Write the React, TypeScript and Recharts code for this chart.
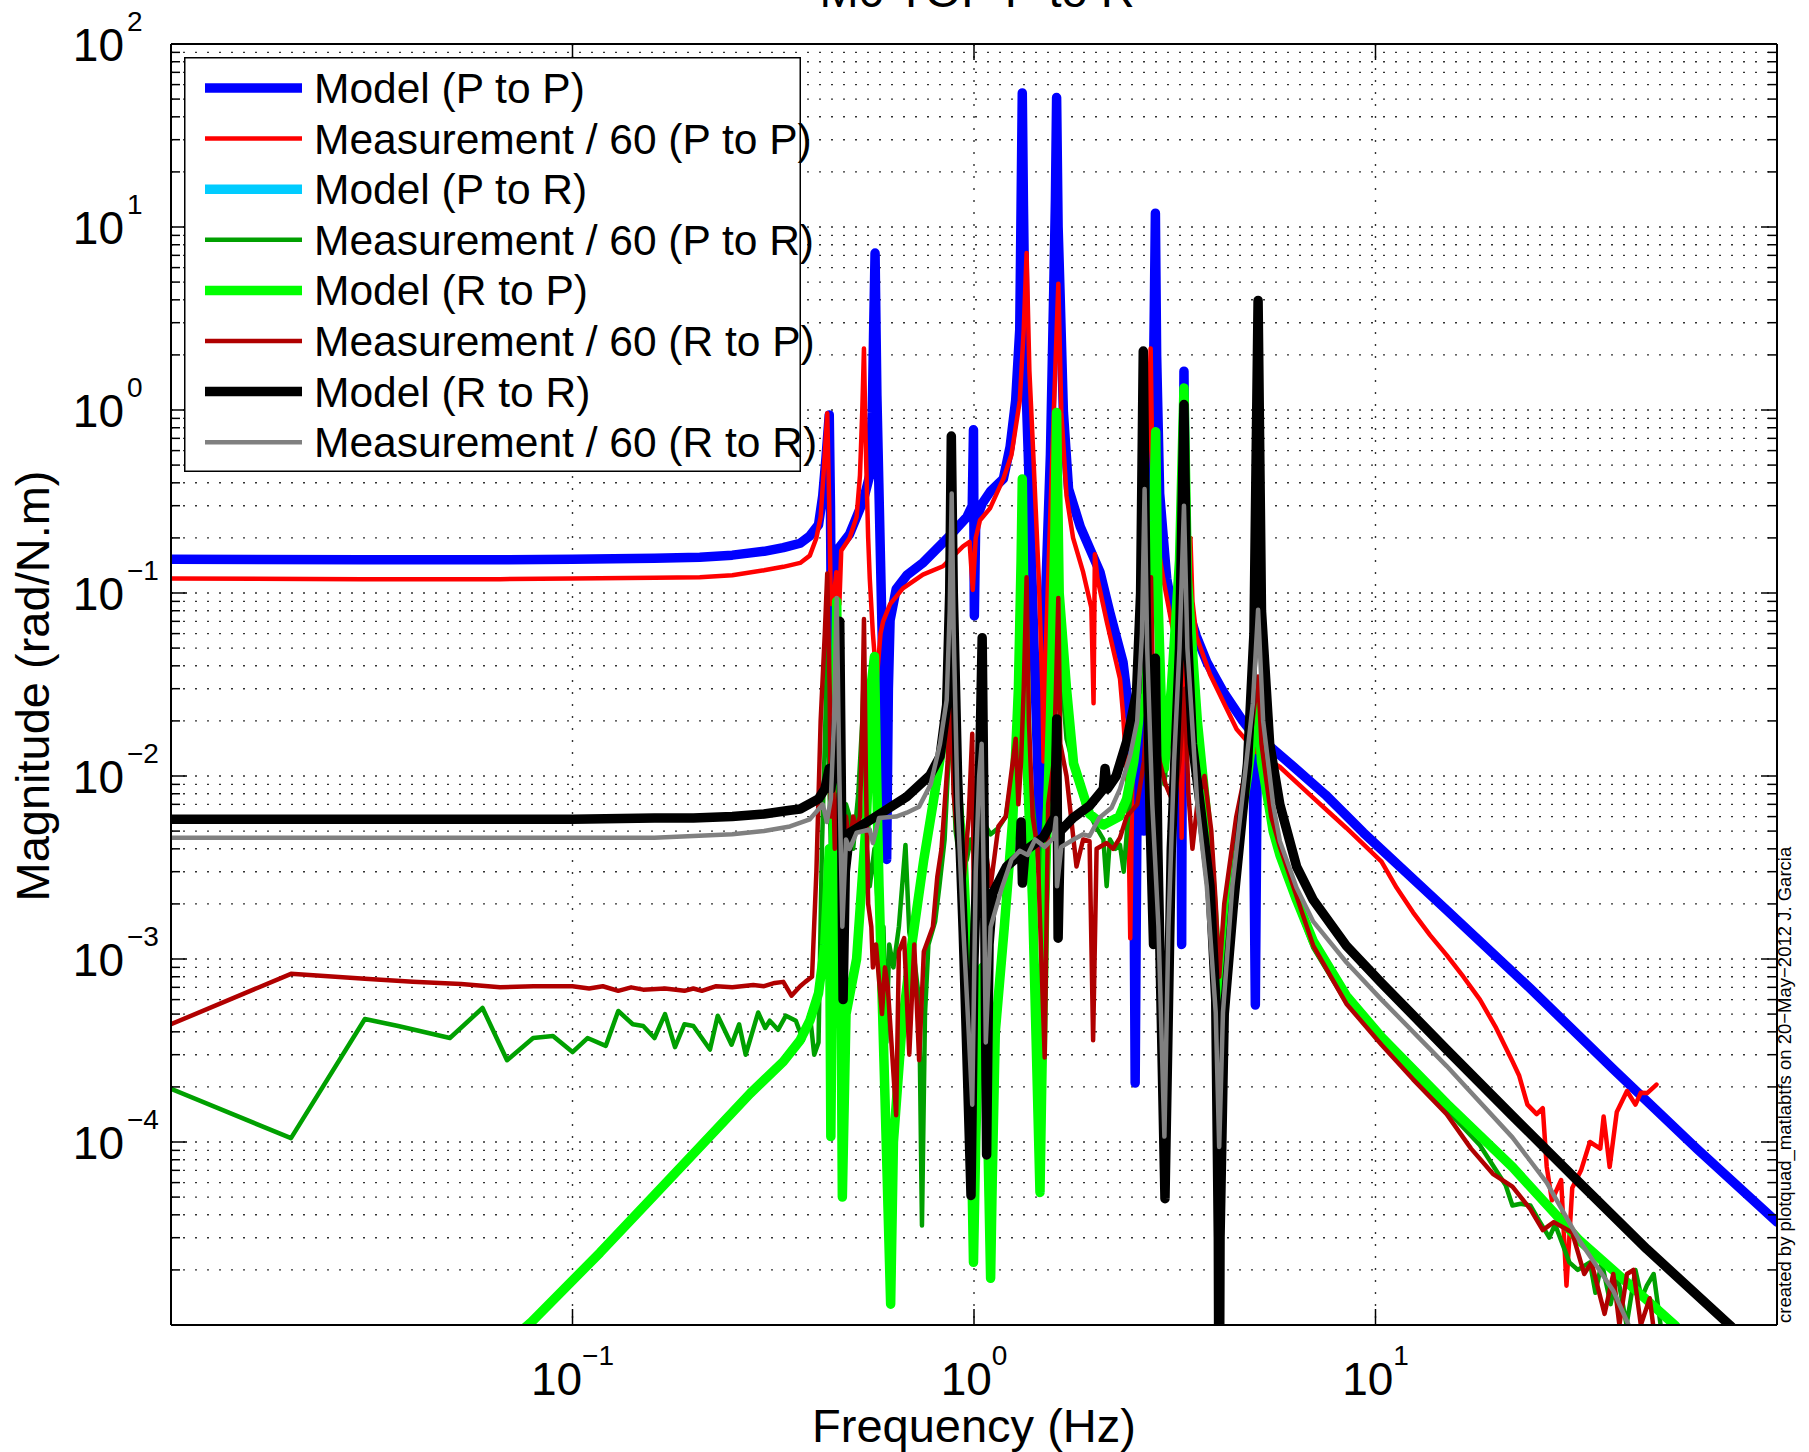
import React from 'react';
import { LineChart, Line, XAxis, YAxis, CartesianGrid, ReferenceLine, Legend } from 'recharts';

// ---------------- layout ----------------
const W = 1809;
const H = 1452;
const Y_AXIS_W = 171;
const X_AXIS_H = 127;
const MARGIN = { top: 44, right: 32, left: 0, bottom: 0 };
const PLOT_L = Y_AXIS_W;
const PLOT_R = W - MARGIN.right;
const PLOT_T = MARGIN.top;
const PLOT_B = H - X_AXIS_H;
const FONT = '"Liberation Sans", Arial, Helvetica, sans-serif';
const THICK = 9.5;
const THIN = 4.5;

// ---------------- axes ----------------
const xDomain = [0.01, 100];
const yDomain = [1e-5, 100];
const xTicks = [0.01, 0.1, 1, 10, 100];
const xTickExp: Record<string, string> = { '0.1': '\u22121', '1': '0', '10': '1' };
const yMantissas = [1, 2, 3, 4, 5, 6, 7, 8, 9];
const yDecades = [-5, -4, -3, -2, -1, 0, 1];
const yTicks = [...yDecades.flatMap((e) => yMantissas.map((m) => +(m * Math.pow(10, e)).toPrecision(6))), 100];
const yTickExp: Record<string, string> = {
  '0.0001': '\u22124', '0.001': '\u22123', '0.01': '\u22122', '0.1': '\u22121', '1': '0', '10': '1', '100': '2',
};

// ---------------- data: [frequency Hz, magnitude] ----------------
const modelPtoP: number[][] = [
  [0.01, 0.153], [0.03, 0.152], [0.066, 0.152], [0.1, 0.153], [0.16, 0.155], [0.2075, 0.157], [0.25, 0.161],
  [0.3, 0.169], [0.335, 0.177], [0.369, 0.187], [0.39, 0.205], [0.41, 0.236], [0.42, 0.34], [0.428, 0.55],
  [0.436, 0.94], [0.439, 0.3], [0.442, 0.04], [0.446, 0.12], [0.455, 0.17], [0.49, 0.21], [0.51, 0.26],
  [0.53, 0.32], [0.55, 0.44], [0.558, 0.97], [0.562, 2.5], [0.567, 7.2], [0.573, 1.2], [0.585, 0.15],
  [0.597, 0.02], [0.606, 0.0035], [0.612, 0.03], [0.618, 0.071], [0.64, 0.105], [0.68, 0.125], [0.748, 0.147],
  [0.86, 0.2], [0.96, 0.26], [0.99, 0.3], [0.997, 0.78], [1.002, 0.075], [1.01, 0.25], [1.05, 0.31],
  [1.1, 0.36], [1.183, 0.42], [1.23, 0.63], [1.27, 1.13], [1.3, 2.75], [1.31, 13], [1.319, 54], [1.328, 13],
  [1.345, 1.5], [1.365, 0.57], [1.405, 0.07], [1.44, 0.012], [1.46, 0.004], [1.48, 0.012], [1.5, 0.07],
  [1.55, 0.57], [1.58, 4.6], [1.595, 14], [1.606, 51], [1.62, 10], [1.637, 4.6], [1.67, 0.97], [1.72, 0.37],
  [1.84, 0.23], [2.06, 0.13], [2.18, 0.078], [2.35, 0.042], [2.45, 0.02], [2.5, 0.005], [2.52, 0.00021],
  [2.55, 0.01], [2.6, 0.03], [2.635, 0.09], [2.65, 0.005], [2.7, 0.04], [2.78, 0.5], [2.81, 3], [2.83, 11.9],
  [2.85, 2], [2.9, 0.35], [3.02, 0.12], [3.2, 0.06], [3.27, 0.03], [3.29, 0.0012], [3.31, 0.12], [3.334, 1.63],
  [3.36, 0.2], [3.45, 0.075], [3.58, 0.058], [3.8, 0.042], [4.17, 0.029], [4.67, 0.02], [4.95, 0.017],
  [5.02, 0.00056], [5.08, 0.0165], [5.4, 0.0148], [6.12, 0.0117], [7.5, 0.0079], [9.33, 0.0049],
  [15.04, 0.00185], [24.3, 0.00069], [39.1, 0.00025], [63.1, 0.000092], [100, 0.0000365],
];

const measPtoP: number[][] = [
  [0.01, 0.12], [0.03, 0.119], [0.066, 0.119], [0.1, 0.12], [0.16, 0.121], [0.2075, 0.122], [0.25, 0.125],
  [0.3, 0.133], [0.335, 0.139], [0.369, 0.146], [0.39, 0.16], [0.405, 0.2], [0.415, 0.26], [0.422, 0.45],
  [0.431, 0.96], [0.436, 0.3], [0.44, 0.087], [0.446, 0.087], [0.454, 0.13], [0.462, 0.087], [0.467, 0.17],
  [0.49, 0.2], [0.51, 0.26], [0.52, 0.44], [0.527, 1.0], [0.532, 2.17], [0.537, 0.7], [0.545, 0.2],
  [0.55, 0.12], [0.56, 0.06], [0.572, 0.033], [0.585, 0.06], [0.594, 0.07], [0.618, 0.087], [0.665, 0.106],
  [0.746, 0.126], [0.837, 0.14], [0.939, 0.18], [0.975, 0.19], [0.993, 0.104], [1.01, 0.2], [1.035, 0.25],
  [1.096, 0.29], [1.183, 0.42], [1.24, 0.57], [1.3, 1.12], [1.33, 2.75], [1.352, 7.2], [1.374, 1.63],
  [1.405, 0.57], [1.45, 0.12], [1.48, 0.03], [1.49, 0.012], [1.51, 0.05], [1.53, 0.12], [1.58, 0.97],
  [1.622, 4.9], [1.65, 0.97], [1.7, 0.34], [1.765, 0.2], [1.87, 0.13], [1.96, 0.083], [1.985, 0.025],
  [2.0, 0.163], [2.03, 0.12], [2.14, 0.07], [2.31, 0.034], [2.35, 0.022], [2.42, 0.008], [2.45, 0.0013],
  [2.48, 0.01], [2.55, 0.04], [2.65, 0.2], [2.72, 0.8], [2.754, 2.17], [2.78, 0.5], [2.85, 0.2], [2.96, 0.12],
  [3.1, 0.07], [3.2, 0.05], [3.27, 0.02], [3.29, 0.0046], [3.33, 0.04], [3.4, 0.08], [3.46, 0.2], [3.5, 0.09],
  [3.58, 0.058], [3.87, 0.036], [4.51, 0.018], [5.06, 0.0135], [5.78, 0.0112], [7.0, 0.0076], [8.46, 0.0052],
  [10.35, 0.0034], [11.29, 0.00245], [12.4, 0.0018], [13.67, 0.00135], [15.04, 0.00105], [16.55, 0.0008],
  [18.2, 0.0006], [19.97, 0.00042], [21.93, 0.000276], [22.8, 0.00023], [23.9, 0.00016], [25.2, 0.000142],
  [26.1, 0.000153], [26.7, 0.000073], [27.5, 0.000048], [29, 0.000062], [29.9, 0.0000164], [30.9, 0.000056],
  [32.5, 0.00007], [34.2, 0.0001], [36.3, 0.000092], [37, 0.000138], [38.3, 0.000073], [39.9, 0.000146],
  [42.3, 0.00019], [44.4, 0.00016], [45.8, 0.000186], [47.5, 0.000185], [50.1, 0.000206],
];

const modelRtoP: number[][] = [
  [0.075, 0.0000094], [0.0791, 0.0000104], [0.117, 0.0000248], [0.156, 0.0000484], [0.2075, 0.000094],
  [0.277, 0.000184], [0.335, 0.000275], [0.369, 0.00036], [0.39, 0.00046], [0.41, 0.00065], [0.425, 0.0012],
  [0.432, 0.0025], [0.436, 0.004], [0.44, 0.000107], [0.445, 0.002], [0.451, 0.02], [0.455, 0.09], [0.46, 0.01],
  [0.466, 0.001], [0.47, 0.00005], [0.48, 0.0005], [0.51, 0.001], [0.54, 0.006], [0.556, 0.033], [0.565, 0.045],
  [0.572, 0.01], [0.58, 0.0025], [0.6, 0.00018], [0.62, 0.000013], [0.63, 0.0001], [0.66, 0.0004], [0.7, 0.0012],
  [0.75, 0.0035], [0.79, 0.007], [0.83, 0.014], [0.855, 0.022], [0.87, 0.05], [0.878, 0.09], [0.888, 0.03],
  [0.91, 0.008], [0.94, 0.0035], [0.97, 0.0008], [0.985, 0.0001], [0.997, 0.000022], [1.01, 0.0001],
  [1.03, 0.0006], [1.05, 0.0009], [1.07, 0.0004], [1.09, 0.00005], [1.1, 0.000018], [1.11, 0.00006],
  [1.13, 0.0004], [1.19, 0.0015], [1.25, 0.006], [1.29, 0.03], [1.31, 0.15], [1.319, 0.42], [1.33, 0.1],
  [1.36, 0.01], [1.4, 0.002], [1.46, 0.000053], [1.5, 0.002], [1.55, 0.02], [1.59, 0.2], [1.606, 0.97],
  [1.63, 0.1], [1.7, 0.03], [1.77, 0.0117], [1.94, 0.0062], [2.1, 0.0054], [2.3, 0.006], [2.4, 0.0075],
  [2.5, 0.012], [2.6, 0.025], [2.7, 0.06], [2.8, 0.25], [2.835, 0.76], [2.87, 0.1], [2.95, 0.015],
  [2.98, 0.011], [3.1, 0.03], [3.25, 0.15], [3.334, 1.32], [3.4, 0.12], [3.6, 0.02], [3.8, 0.006], [4.0, 0.0012],
  [4.08, 0.0001], [4.2, 0.001], [4.5, 0.004], [4.8, 0.01], [5.05, 0.025], [5.1, 0.028], [5.2, 0.012],
  [5.56, 0.005], [5.78, 0.0037], [6.36, 0.0021], [7.0, 0.00125], [8.46, 0.00063], [10.35, 0.000374],
  [15.04, 0.000162], [21.93, 0.000073], [32.2, 0.000029], [47.4, 0.0000137], [55.6, 0.00001], [58, 0.000009],
];

// Model (P to R) lies exactly under Model (R to P) in the reference
const modelPtoR: number[][] = modelRtoP;

const measPtoR: number[][] = [
  [0.01, 0.000195], [0.0199, 0.000105], [0.0304, 0.00047], [0.0368, 0.00043], [0.0495, 0.00037],
  [0.0597, 0.00054], [0.0687, 0.00028], [0.0798, 0.00037], [0.0894, 0.00038], [0.1, 0.00031], [0.109, 0.00037],
  [0.121, 0.000335], [0.13, 0.00052], [0.1413, 0.00044], [0.15, 0.00043], [0.16, 0.00037], [0.17, 0.0005],
  [0.18, 0.00033], [0.19, 0.00044], [0.2, 0.00043], [0.22, 0.00032], [0.23, 0.00049], [0.249, 0.00034],
  [0.26, 0.00044], [0.27, 0.0003], [0.29, 0.00051], [0.302, 0.00042], [0.31, 0.00046], [0.325, 0.00041],
  [0.34, 0.00049], [0.36, 0.00046], [0.375, 0.00036], [0.39, 0.0005], [0.4, 0.0003], [0.41, 0.00035],
  [0.418, 0.004], [0.425, 0.015], [0.431, 0.05], [0.436, 0.01], [0.44, 0.004], [0.45, 0.003], [0.455, 0.02],
  [0.462, 0.004], [0.472, 0.0025], [0.48, 0.007], [0.49, 0.006], [0.5, 0.004], [0.515, 0.008], [0.527, 0.02],
  [0.532, 0.04], [0.537, 0.005], [0.55, 0.0025], [0.565, 0.004], [0.58, 0.0015], [0.595, 0.0015],
  [0.605, 0.00035], [0.615, 0.0012], [0.63, 0.0009], [0.65, 0.0015], [0.675, 0.0042], [0.69, 0.0014],
  [0.71, 0.001], [0.73, 0.0006], [0.742, 0.000035], [0.755, 0.0005], [0.77, 0.0012], [0.8, 0.0016],
  [0.82, 0.0025], [0.845, 0.0045], [0.86, 0.01], [0.875, 0.04], [0.885, 0.012], [0.9, 0.005], [0.93, 0.003],
  [0.96, 0.0035], [0.98, 0.0045], [1.0, 0.0038], [1.03, 0.0045], [1.06, 0.0055], [1.1, 0.0048], [1.15, 0.0052],
  [1.2, 0.006], [1.26, 0.012], [1.3, 0.04], [1.319, 0.2], [1.335, 0.04], [1.38, 0.01], [1.42, 0.005],
  [1.46, 0.0025], [1.5, 0.006], [1.56, 0.03], [1.606, 0.45], [1.63, 0.05], [1.7, 0.016], [1.8, 0.01],
  [1.88, 0.007], [1.94, 0.0062], [2.02, 0.0052], [2.1, 0.0045], [2.14, 0.0025], [2.18, 0.0045], [2.25, 0.004],
  [2.31, 0.0042], [2.36, 0.003], [2.42, 0.006], [2.5, 0.011], [2.6, 0.024], [2.7, 0.05], [2.8, 0.2],
  [2.835, 0.4], [2.87, 0.06], [2.93, 0.015], [2.98, 0.009], [3.1, 0.025], [3.25, 0.12], [3.334, 0.7],
  [3.38, 0.1], [3.5, 0.025], [3.7, 0.009], [3.9, 0.003], [4.02, 0.0008], [4.08, 0.0002], [4.15, 0.0008],
  [4.4, 0.0035], [4.7, 0.008], [4.95, 0.016], [5.1, 0.022], [5.25, 0.01], [5.5, 0.005], [5.78, 0.0036],
  [6.36, 0.002], [7.0, 0.00115], [8.46, 0.00058], [10.35, 0.000345], [12.4, 0.000225], [15.04, 0.00015],
  [18.2, 0.000096], [21.1, 0.000058], [21.93, 0.000045], [23, 0.000046], [24.3, 0.000045], [25.6, 0.000037],
  [27.1, 0.00003], [28, 0.0000355], [30.4, 0.000022], [31.9, 0.00002], [34.2, 0.000022], [35.3, 0.000015],
  [36.6, 0.000022], [38.5, 0.000013], [40, 0.000019], [42.2, 0.00001], [44.4, 0.00002], [46, 0.000014],
  [47.4, 0.0000164], [49.3, 0.000019], [51.3, 0.00001],
];

const measRtoP: number[][] = [
  [0.01, 0.00044], [0.0199, 0.00083], [0.0304, 0.00078], [0.04, 0.00075], [0.0528, 0.00073], [0.066, 0.0007],
  [0.08, 0.00071], [0.1, 0.00071], [0.11, 0.00069], [0.119, 0.00071], [0.13, 0.00067], [0.14, 0.0007],
  [0.15, 0.00068], [0.17, 0.00069], [0.19, 0.00067], [0.2, 0.00069], [0.21, 0.00067], [0.228, 0.00071],
  [0.25, 0.0007], [0.282, 0.00072], [0.3, 0.00071], [0.319, 0.00074], [0.335, 0.00075], [0.351, 0.00063],
  [0.369, 0.00071], [0.38, 0.00075], [0.395, 0.0008], [0.405, 0.003], [0.415, 0.02], [0.425, 0.06],
  [0.431, 0.128], [0.437, 0.03], [0.44, 0.006], [0.445, 0.012], [0.45, 0.004], [0.46, 0.008], [0.47, 0.003],
  [0.48, 0.006], [0.49, 0.004], [0.5, 0.006], [0.51, 0.005], [0.52, 0.006], [0.527, 0.02], [0.532, 0.072],
  [0.538, 0.01], [0.545, 0.002], [0.555, 0.0015], [0.56, 0.0009], [0.57, 0.0012], [0.59, 0.0005],
  [0.6, 0.0009], [0.61, 0.0007], [0.64, 0.00014], [0.65, 0.0011], [0.67, 0.0013], [0.69, 0.0003],
  [0.71, 0.0012], [0.73, 0.00028], [0.75, 0.0011], [0.79, 0.0015], [0.81, 0.0028], [0.83, 0.004],
  [0.86, 0.012], [0.875, 0.03], [0.89, 0.008], [0.91, 0.0045], [0.94, 0.0025], [0.97, 0.006], [0.99, 0.017],
  [1.0, 0.0015], [1.02, 0.004], [1.05, 0.0053], [1.1, 0.0025], [1.15, 0.0053], [1.2, 0.006], [1.27, 0.016],
  [1.29, 0.007], [1.31, 0.012], [1.33, 0.03], [1.352, 0.122], [1.37, 0.02], [1.4, 0.006], [1.44, 0.004],
  [1.5, 0.00029], [1.53, 0.007], [1.58, 0.012], [1.6, 0.03], [1.622, 0.094], [1.64, 0.015], [1.7, 0.01],
  [1.8, 0.0032], [1.87, 0.0045], [1.94, 0.0044], [1.98, 0.00036], [2.02, 0.004], [2.14, 0.0043],
  [2.22, 0.004], [2.31, 0.0046], [2.4, 0.006], [2.55, 0.007], [2.65, 0.012], [2.72, 0.03], [2.76, 0.122],
  [2.8, 0.02], [2.9, 0.012], [3.0, 0.009], [3.15, 0.007], [3.25, 0.012], [3.35, 0.03], [3.42, 0.008],
  [3.5, 0.004], [3.6, 0.007], [3.75, 0.01], [3.9, 0.005], [4.0, 0.002], [4.08, 0.0008], [4.2, 0.002],
  [4.5, 0.006], [4.8, 0.012], [5.0, 0.025], [5.1, 0.035], [5.2, 0.015], [5.5, 0.006], [5.78, 0.0041],
  [7.0, 0.00118], [8.46, 0.00057], [10.35, 0.00034], [12.4, 0.00022], [15.04, 0.000142], [17.3, 0.000092],
  [19.6, 0.000067], [21.93, 0.000057], [24.3, 0.000043], [26.1, 0.000033], [27.8, 0.0000365],
  [30.9, 0.000032], [33.1, 0.000019], [34.5, 0.000022], [37.2, 0.0000115], [39.1, 0.000019], [40.5, 0.00001],
  [42.3, 0.000019], [43.9, 0.00002], [45.8, 0.00001], [48.2, 0.000014], [49.3, 0.0000095],
];

const modelRtoR: number[][] = [
  [0.01, 0.0058], [0.05, 0.0058], [0.1, 0.0058], [0.16, 0.0059], [0.2, 0.0059], [0.25, 0.006], [0.3, 0.0062],
  [0.348, 0.0065], [0.369, 0.0066], [0.41, 0.0075], [0.425, 0.0085], [0.436, 0.011], [0.44, 0.0085],
  [0.45, 0.012], [0.458, 0.03], [0.463, 0.07], [0.467, 0.01], [0.472, 0.0006], [0.478, 0.003], [0.49, 0.0049],
  [0.562, 0.0059], [0.68, 0.0077], [0.777, 0.0101], [0.823, 0.0128], [0.855, 0.0245], [0.87, 0.1],
  [0.878, 0.72], [0.888, 0.1], [0.91, 0.01], [0.94, 0.0014], [0.96, 0.0003], [0.983, 0.000051], [1.0, 0.001],
  [1.03, 0.008], [1.048, 0.057], [1.06, 0.005], [1.075, 0.000085], [1.09, 0.0012], [1.115, 0.0023],
  [1.206, 0.0032], [1.3, 0.0037], [1.31, 0.0056], [1.32, 0.0026], [1.34, 0.0039], [1.486, 0.0046],
  [1.59, 0.006], [1.607, 0.0205], [1.62, 0.0013], [1.64, 0.005], [1.765, 0.0059], [1.944, 0.0069],
  [2.1, 0.0085], [2.12, 0.011], [2.15, 0.0085], [2.26, 0.01], [2.4, 0.0154], [2.54, 0.0285], [2.6, 0.1],
  [2.64, 2.1], [2.68, 0.1], [2.75, 0.005], [2.8, 0.0012], [2.83, 0.044], [2.87, 0.004], [2.99, 0.000049],
  [3.1, 0.004], [3.25, 0.05], [3.334, 1.07], [3.4, 0.06], [3.5, 0.015], [3.66, 0.0069], [3.87, 0.0025],
  [4.0, 0.0006], [4.06, 0.00003], [4.08, 0.000001], [4.1, 0.00003], [4.2, 0.0005], [4.42, 0.0019],
  [4.8, 0.0117], [4.98, 0.06], [5.1, 3.97], [5.2, 0.08], [5.45, 0.015], [5.78, 0.00697], [6.36, 0.0032],
  [7.0, 0.0021], [8.46, 0.00118], [10.35, 0.00074], [15.04, 0.00032], [21.93, 0.000139], [32.2, 0.00006],
  [47.4, 0.000026], [76.2, 0.00001], [80, 0.000009],
];

const measRtoR: number[][] = [
  [0.01, 0.0046], [0.1, 0.0046], [0.16, 0.0046], [0.2, 0.0047], [0.25, 0.0048], [0.3, 0.005], [0.348, 0.0053],
  [0.39, 0.0058], [0.42, 0.007], [0.43, 0.0056], [0.44, 0.0075], [0.448, 0.02], [0.455, 0.094], [0.462, 0.01],
  [0.47, 0.0015], [0.48, 0.0045], [0.49, 0.004], [0.51, 0.0049], [0.55, 0.0051], [0.56, 0.0043],
  [0.58, 0.0059], [0.64, 0.006], [0.68, 0.0063], [0.73, 0.0068], [0.78, 0.009], [0.823, 0.015],
  [0.855, 0.026], [0.87, 0.08], [0.88, 0.35], [0.89, 0.06], [0.91, 0.007], [0.94, 0.0015], [0.97, 0.0004],
  [0.99, 0.00016], [1.01, 0.003], [1.03, 0.01], [1.045, 0.015], [1.06, 0.002], [1.07, 0.00035],
  [1.1, 0.0015], [1.17, 0.0024], [1.24, 0.0035], [1.3, 0.0039], [1.36, 0.0037], [1.42, 0.0045],
  [1.5, 0.0041], [1.58, 0.0046], [1.6, 0.0059], [1.61, 0.0025], [1.65, 0.0041], [1.77, 0.0045],
  [1.87, 0.0048], [1.94, 0.0047], [2.05, 0.0059], [2.2, 0.0067], [2.31, 0.0085], [2.45, 0.013],
  [2.55, 0.02], [2.62, 0.06], [2.66, 0.37], [2.7, 0.05], [2.78, 0.007], [2.88, 0.0015], [2.98, 0.000107],
  [3.05, 0.0015], [3.15, 0.012], [3.25, 0.05], [3.334, 0.3], [3.4, 0.05], [3.6, 0.007], [3.8, 0.0025],
  [4.0, 0.00051], [4.08, 0.000094], [4.17, 0.00051], [4.4, 0.0025], [4.7, 0.009], [4.95, 0.025],
  [5.1, 0.081], [5.25, 0.02], [5.56, 0.007], [5.78, 0.0044], [6.36, 0.00245], [7.0, 0.0016],
  [8.46, 0.00096], [10.35, 0.0006], [15.04, 0.00026], [21.93, 0.000106], [26.7, 0.00006], [32.2, 0.000029],
  [39.1, 0.0000154], [42.7, 0.00001], [44, 0.000009],
];

// ---------------- series / legend ----------------
const seriesNames = [
  'Model (P to P)', 'Measurement / 60 (P to P)', 'Model (P to R)', 'Measurement / 60 (P to R)',
  'Model (R to P)', 'Measurement / 60 (R to P)', 'Model (R to R)', 'Measurement / 60 (R to R)',
];
const seriesColors = ['#0000ff', '#ff0000', '#00ccff', '#00a000', '#00ff00', '#b00000', '#000000', '#808080'];
const seriesWidths = [THICK, THIN, THICK - 1.5, THIN, THICK, THIN, THICK, THIN];
const seriesData = [modelPtoP, measPtoP, modelPtoR, measPtoR, modelRtoP, measRtoP, modelRtoR, measRtoR];
const legendWidths = [THICK, THIN, THICK, THIN, THICK, THIN, THICK, THIN];

const toPoints = (arr: number[][]) => arr.map(([f, v]) => ({ f, v }));

const LEGEND_LEFT = 184;
const LEGEND_TOP = 57;
const LEGEND_W = 617;
const LEGEND_H = 415;
const LEGEND_ROW0 = 31;
const LEGEND_ROW_STEP = 50.6;

const LegendBox = () => (
  <svg width={LEGEND_W + 40} height={LEGEND_H + 4} style={{ overflow: 'visible', display: 'block' }}>
    <rect x={0.75} y={0.75} width={LEGEND_W - 1.5} height={LEGEND_H - 1.5} fill="#fff" stroke="#000" strokeWidth={1.5} />
    {seriesNames.map((name, i) => {
      const cy = LEGEND_ROW0 + i * LEGEND_ROW_STEP;
      return (
        <g key={name}>
          <line x1={21} x2={118} y1={cy} y2={cy} stroke={seriesColors[i]} strokeWidth={legendWidths[i]} />
          <text x={130} y={cy + 15} fontFamily={FONT} fontSize={42.5} fill="#000">{name}</text>
        </g>
      );
    })}
  </svg>
);

// ---------------- ticks ----------------
const XTick = (props: any) => {
  const { x, payload } = props;
  const key = String(payload.value);
  const sup = xTickExp[key];
  if (sup === undefined) return <g />;
  return (
    <g>
      <line x1={x} x2={x} y1={PLOT_B} y2={PLOT_B - 16} stroke="#000" strokeWidth={1.5} />
      <line x1={x} x2={x} y1={PLOT_T} y2={PLOT_T + 16} stroke="#000" strokeWidth={1.5} />
      <text x={x} y={PLOT_B + 70} textAnchor="middle" fontFamily={FONT} fontSize={46} fill="#000">
        10<tspan dy={-30} fontSize={28}>{sup}</tspan>
      </text>
    </g>
  );
};

const YTick = (props: any) => {
  const { y, payload } = props;
  const val: number = payload.value;
  const key = String(val);
  const sup = yTickExp[key];
  const isMajor = sup !== undefined || val === 0.00001;
  const atEdge = val >= 100 || val <= 0.00001;
  const len = isMajor ? 16 : 9;
  return (
    <g>
      {!atEdge && <line x1={PLOT_L} x2={PLOT_L + len} y1={y} y2={y} stroke="#000" strokeWidth={1.5} />}
      {!atEdge && <line x1={PLOT_R} x2={PLOT_R - len} y1={y} y2={y} stroke="#000" strokeWidth={1.5} />}
      {sup !== undefined && (
        <g fontFamily={FONT} fill="#000">
          <text x={PLOT_L - 47} y={y + 17} textAnchor="end" fontSize={46}>10</text>
          <text x={PLOT_L - 44} y={y - 13} textAnchor="start" fontSize={28}>{sup}</text>
        </g>
      )}
    </g>
  );
};

export default function App() {
  return (
    <div style={{ position: 'absolute', left: 0, top: 0, width: W, height: H, background: '#fff' }}>
      <LineChart width={W} height={H} margin={MARGIN}>
        <CartesianGrid stroke="#333" strokeWidth={1.4} strokeDasharray="2 10" />
        <XAxis
          dataKey="f"
          type="number"
          scale="log"
          domain={xDomain}
          ticks={xTicks}
          interval={0}
          allowDataOverflow
          height={X_AXIS_H}
          axisLine={false}
          tickLine={false}
          tickSize={0}
          tickMargin={0}
          tick={<XTick />}
        />
        <YAxis
          dataKey="v"
          type="number"
          scale="log"
          domain={yDomain}
          ticks={yTicks}
          interval={0}
          allowDataOverflow
          width={Y_AXIS_W}
          axisLine={false}
          tickLine={false}
          tickSize={0}
          tickMargin={0}
          tick={<YTick />}
        />
        {seriesData.map((arr, i) => (
          <Line
            key={seriesNames[i]}
            name={seriesNames[i]}
            data={toPoints(arr)}
            dataKey="v"
            type="linear"
            stroke={seriesColors[i]}
            strokeWidth={seriesWidths[i]}
            strokeLinejoin="round"
            strokeLinecap="round"
            dot={false}
            activeDot={false}
            isAnimationActive={false}
          />
        ))}
        <ReferenceLine x={xDomain[0]} stroke="#000" strokeWidth={2} ifOverflow="visible" />
        <ReferenceLine x={xDomain[1]} stroke="#000" strokeWidth={2} ifOverflow="visible" />
        <ReferenceLine y={yDomain[0]} stroke="#000" strokeWidth={2} ifOverflow="visible" />
        <ReferenceLine y={yDomain[1]} stroke="#000" strokeWidth={2} ifOverflow="visible" />
        <Legend
          layout="vertical"
          align="center"
          verticalAlign="middle"
          wrapperStyle={{ left: LEGEND_LEFT, top: LEGEND_TOP, width: LEGEND_W, height: LEGEND_H }}
          content={() => <LegendBox />}
        />
      </LineChart>
      <svg
        width={W}
        height={H}
        style={{ position: 'absolute', left: 0, top: 0, pointerEvents: 'none' }}
      >
        <text x={977} y={7} textAnchor="middle" fontFamily={FONT} fontSize={47} fill="#000">M0 TOP P to R</text>
        <text x={(PLOT_L + PLOT_R) / 2} y={1442} textAnchor="middle" fontFamily={FONT} fontSize={47} fill="#000">
          Frequency (Hz)
        </text>
        <text
          x={49}
          y={686}
          textAnchor="middle"
          fontFamily={FONT}
          fontSize={47}
          fill="#000"
          transform="rotate(-90 49 686)"
        >
          Magnitude (rad/N.m)
        </text>
        <text
          x={1791}
          y={PLOT_B - 2}
          textAnchor="start"
          fontFamily={FONT}
          fontSize={18.5}
          fill="#000"
          transform={`rotate(-90 1791 ${PLOT_B - 2})`}
        >
          created by plotquad_matlabtfs on 20{'\u2212'}May{'\u2212'}2012 J. Garcia
        </text>
      </svg>
    </div>
  );
}
